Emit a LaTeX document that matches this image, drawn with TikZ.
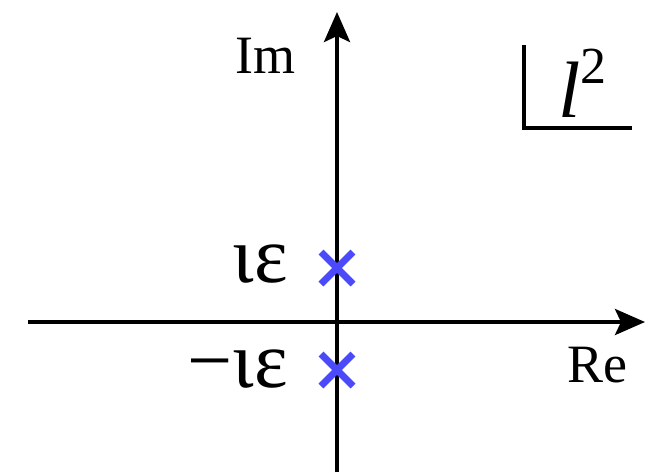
\documentclass[tikz,border=0pt]{standalone}
\usepackage{fontspec}
\setmainfont{Liberation Serif}
\usetikzlibrary{arrows.meta}
\definecolor{poleblue}{RGB}{74,74,250}

\begin{document}
\begin{tikzpicture}[x=0.5pt,y=-0.5pt,
  axis/.style={line width=2pt, -{Stealth[length=15pt,width=13pt,inset=3pt]}},
  pole/.style={poleblue, line width=3.4pt},
  lbl/.style={inner sep=0pt, font=\fontsize{27}{27}\selectfont},
  grk/.style={inner sep=0pt, font=\fontsize{40}{40}\selectfont}]
\useasboundingbox (0,0) rectangle (659,472);
\coordinate (imlow) at (337,472);
\coordinate (imtop) at (337,12);
\coordinate (releft) at (28,322);
\coordinate (reright) at (645,322);
\draw[axis] (imlow) -- (imtop);
\draw[axis] (releft) -- (reright);
\coordinate (pp) at (337,268);
\coordinate (pm) at (337,370);
\draw[pole] ([shift={(-16,-16)}]pp) -- ([shift={(16,16)}]pp);
\draw[pole] ([shift={(-16,16)}]pp) -- ([shift={(16,-16)}]pp);
\draw[pole] ([shift={(-16,-16)}]pm) -- ([shift={(16,16)}]pm);
\draw[pole] ([shift={(-16,16)}]pm) -- ([shift={(16,-16)}]pm);
\node[lbl,anchor=base west] (im) at (235,73) {Im};
\node[lbl,anchor=base west] (re) at (567,382) {Re};
\node[grk,anchor=base east] (plus) at (288,282) {ιε};
\node[grk,anchor=base east] (minus) at (288,387) {−ιε};
\coordinate (boxtop) at (524,45);
\coordinate (boxcorner) at (524,128);
\coordinate (boxright) at (632,128);
\draw[line width=2pt] (boxtop) -- (boxcorner) -- (boxright);
\node[inner sep=0pt,anchor=base west] (sheet) at (558,117) {\fontsize{40}{40}\selectfont\itshape l\raisebox{0.42em}{\fontsize{26}{26}\selectfont\upshape 2}};
\end{tikzpicture}
\end{document}
